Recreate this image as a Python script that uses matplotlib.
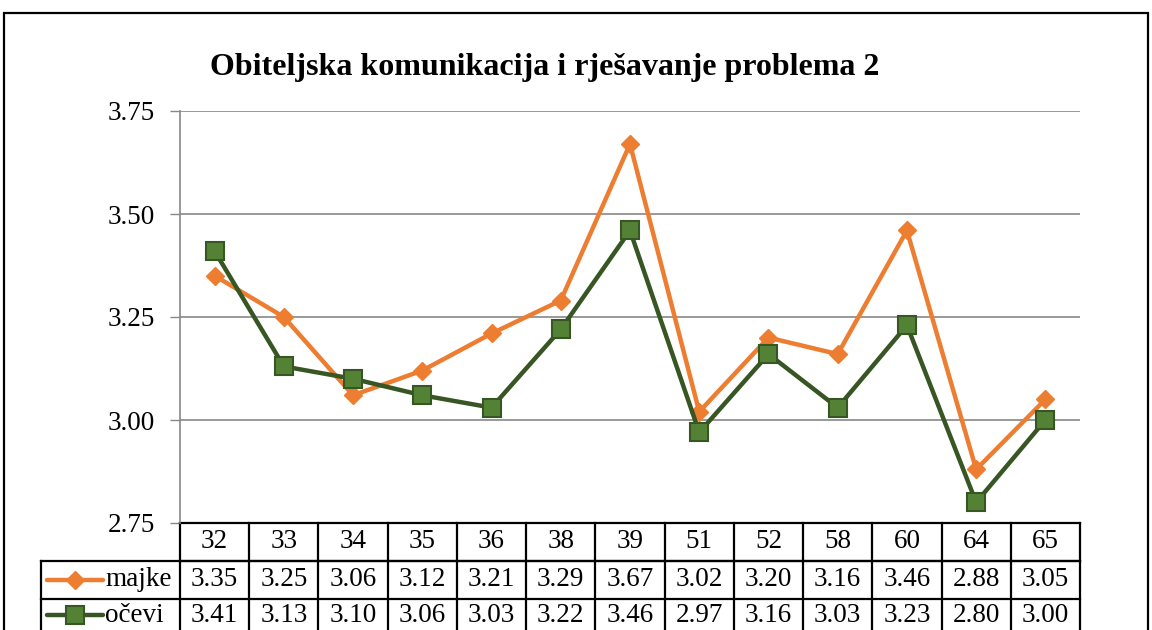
import matplotlib
matplotlib.use('Agg')
import matplotlib.pyplot as plt
import matplotlib.transforms as mtransforms
from matplotlib.patches import Rectangle

categories = ['32', '33', '34', '35', '36', '38', '39', '51', '52', '58', '60', '64', '65']
majke = [3.35, 3.25, 3.06, 3.12, 3.21, 3.29, 3.67, 3.02, 3.20, 3.16, 3.46, 2.88, 3.05]
ocevi = [3.41, 3.13, 3.10, 3.06, 3.03, 3.22, 3.46, 2.97, 3.16, 3.03, 3.23, 2.80, 3.00]
series_names = ['majke', 'očevi']
y_ticks = [2.75, 3.00, 3.25, 3.50, 3.75]

plt.rcParams['font.family'] = ['Liberation Serif', 'DejaVu Serif']

W, H = 1152, 630
FS = 19.5
fig = plt.figure(figsize=(W / 100, H / 100), dpi=100)
ax = fig.add_axes([180 / W, 1 - 523 / H, 900 / W, 412 / H])

orange = '#ED7D31'
green_line = '#375623'
green_face = '#548235'

x = list(range(len(categories)))
ax.plot(x, majke, color=orange, lw=3.2, marker='D', ms=9,
        mfc=orange, mec=orange, zorder=3)
ax.plot(x, ocevi, color=green_line, lw=3.2, marker='s', ms=13,
        mfc=green_face, mec=green_line, mew=1.5, zorder=4)

ax.set_xlim(-0.5, len(categories) - 0.5)
ax.set_ylim(2.75, 3.75)
ax.set_yticks(y_ticks)
ax.set_yticklabels(['{:.2f}'.format(v) for v in y_ticks])
ax.set_xticks([])
ax.tick_params(axis='y', labelsize=FS, length=7, width=1, color='#888888', pad=11)
ax.grid(axis='y', color='#888888', lw=1.2)
ax.set_axisbelow(True)
for s in ['top', 'right', 'bottom']:
    ax.spines[s].set_visible(False)
ax.spines['left'].set_color('#888888')
ax.spines['left'].set_linewidth(1.2)

fig.text(545 / W, 1 - 67 / H, 'Obiteljska komunikacija i rješavanje problema 2',
         ha='center', va='center', fontsize=23, fontweight='bold')

# data table under the plot
blend = mtransforms.blended_transform_factory(ax.transData, ax.transAxes)
hdr_b = (523 - 561) / 412
row1_b = (523 - 599) / 412
row2_b = (523 - 640) / 412
leg_l = (41 - 180) / 900
n = len(categories)
lk = dict(color='black', lw=1.6, clip_on=False)

for yy in [0, hdr_b]:
    ax.plot([-0.5, n - 0.5], [yy, yy], transform=blend, **lk)
for yy in [hdr_b, row1_b]:
    ax.plot([leg_l, 1], [yy, yy], transform=ax.transAxes, **lk)
for i in range(n + 1):
    ax.plot([i - 0.5, i - 0.5], [0, row2_b], transform=blend, **lk)
ax.plot([leg_l, leg_l], [hdr_b, row2_b], transform=ax.transAxes, **lk)

y0 = hdr_b / 2
y1 = (hdr_b + row1_b) / 2
y2 = (row1_b + row2_b) / 2 + 0.01
for i, c in enumerate(categories):
    ax.text(i, y0, c, transform=blend, ha='center', va='center', fontsize=FS)
    ax.text(i, y1, '{:.2f}'.format(majke[i]), transform=blend,
            ha='center', va='center', fontsize=FS)
    ax.text(i, y2, '{:.2f}'.format(ocevi[i]), transform=blend,
            ha='center', va='center', fontsize=FS)

# legend keys inside the table
kx0, kx1, kxm = (47 - 180) / 900, (103 - 180) / 900, (75 - 180) / 900
ax.plot([kx0, kx1], [y1, y1], transform=ax.transAxes, color=orange, lw=3.2,
        solid_capstyle='round', clip_on=False)
ax.plot([kxm], [y1], transform=ax.transAxes, marker='D', ms=9, color=orange, clip_on=False)
ax.plot([kx0, kx1], [y2, y2], transform=ax.transAxes, color=green_line, lw=3.2,
        solid_capstyle='round', clip_on=False)
ax.plot([kxm], [y2], transform=ax.transAxes, marker='s', ms=13, mfc=green_face,
        mec=green_line, mew=1.5, clip_on=False)
tx = (105 - 180) / 900
ax.text(tx, y1, series_names[0], transform=ax.transAxes, ha='left', va='center', fontsize=FS)
ax.text(tx, y2, series_names[1], transform=ax.transAxes, ha='left', va='center', fontsize=FS)

# outer chart border
fig.add_artist(Rectangle((4 / W, -0.05), (1148 - 4) / W, 1.05 - 13 / H,
                         transform=fig.transFigure, fill=False, ec='black', lw=1.6))

fig.savefig('out.png', dpi=100)
